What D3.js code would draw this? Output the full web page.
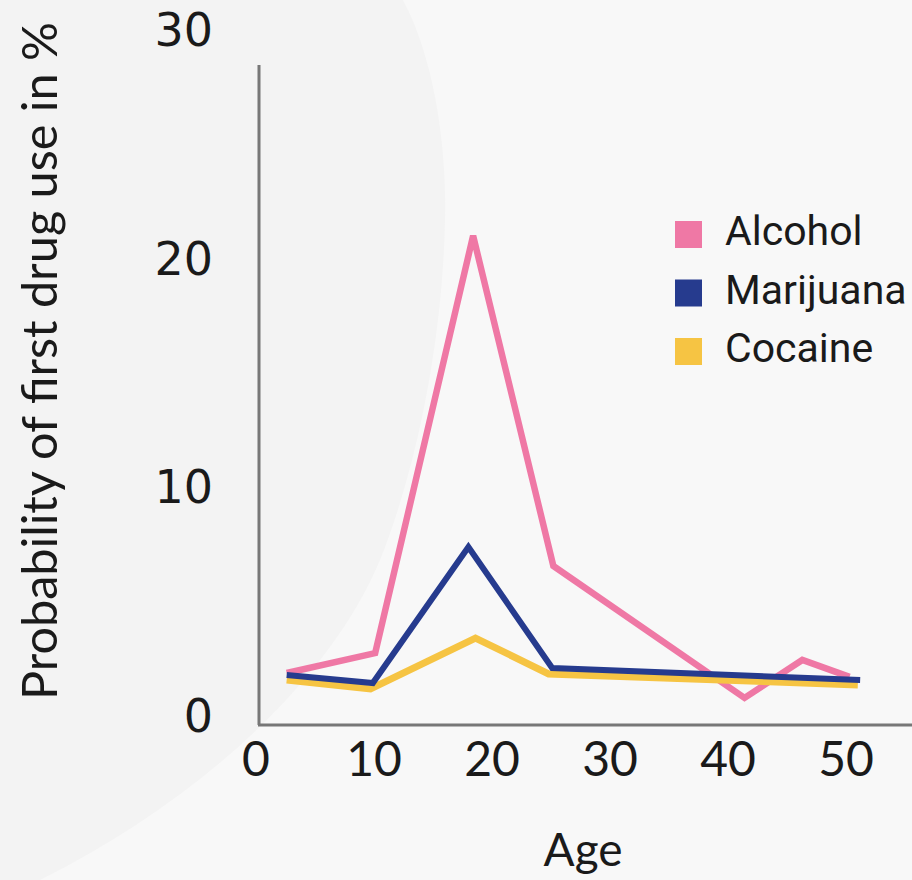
<!DOCTYPE html>
<html><head><meta charset="utf-8">
<script src="https://cdn.jsdelivr.net/npm/d3@7"></script>
<style>html,body{margin:0;padding:0;background:#f8f8f8;}</style>
</head><body>
<svg id="chart" width="912" height="880"></svg>
<script>
const yTicks = [0, 10, 20, 30];
const xTicks = [0, 10, 20, 30, 40, 50];
const seriesNames = ["Alcohol", "Marijuana", "Cocaine"];
const seriesColors = ["#ef78a5", "#263b8e", "#f6c443"];
const alcoholAge = [2.6, 10.1, 18.4, 25.2, 41.4, 46.3, 50.3];
const alcoholVal = [1.88, 2.75, 21.0, 6.56, 0.79, 2.45, 1.71];
const marijuanaAge = [2.6, 9.9, 18.0, 25.1, 51.2];
const marijuanaVal = [1.79, 1.44, 7.39, 2.10, 1.57];
const cocaineAge = [2.6, 9.7, 18.6, 24.8, 51.0];
const cocaineVal = [1.57, 1.18, 3.41, 1.84, 1.36];

const svg = d3.select("#chart");
svg.append("rect").attr("width", 912).attr("height", 880).attr("fill", "#f8f8f8");
svg.append("path")
  .attr("d", "M0,0 L403,0 C435,60 447,150 445,220 C443,330 420,460 380,560 C330,680 200,800 40,880 L0,880 Z")
  .attr("fill", "#f3f3f3");

const x = d3.scaleLinear().domain([0, 50]).range([256, 846]);
const y = d3.scaleLinear().domain([0, 30]).range([716, 30]);

// axes lines
svg.append("line").attr("x1", 259).attr("x2", 259).attr("y1", 65).attr("y2", 725)
  .attr("stroke", "#777").attr("stroke-width", 3);
svg.append("line").attr("x1", 258).attr("x2", 912).attr("y1", 725).attr("y2", 725)
  .attr("stroke", "#777").attr("stroke-width", 3);

// y tick labels
svg.append("g").selectAll("text").data(yTicks).join("text")
  .attr("x", 213).attr("y", d => y(d))
  .attr("text-anchor", "end").attr("dominant-baseline", "central")
  .attr("font-family", "DejaVu Sans").attr("font-size", 46).attr("fill", "#1a1a1a")
  .text(d => d);

// x tick labels
svg.append("g").selectAll("text").data(xTicks).join("text")
  .attr("x", d => x(d)).attr("y", 757)
  .attr("text-anchor", "middle").attr("dominant-baseline", "central")
  .attr("font-family", "Lato").attr("font-size", 48).attr("fill", "#1a1a1a")
  .text(d => d);

// axis titles
svg.append("text").attr("x", 583).attr("y", 866).attr("text-anchor", "middle")
  .attr("font-family", "Lato").attr("font-size", 46).attr("fill", "#1a1a1a").text("Age");
svg.append("text").attr("transform", "translate(57,361) rotate(-90)")
  .attr("text-anchor", "middle")
  .attr("font-family", "Lato").attr("font-size", 48).attr("fill", "#1a1a1a")
  .attr("textLength", 678).attr("lengthAdjust", "spacingAndGlyphs")
  .text("Probability of first drug use in %");

// lines
const line = d3.line().x(d => x(d[0])).y(d => y(d[1]));
const series = [
  { ages: alcoholAge, vals: alcoholVal, color: seriesColors[0], w: 6.5 },
  { ages: cocaineAge, vals: cocaineVal, color: seriesColors[2], w: 7 },
  { ages: marijuanaAge, vals: marijuanaVal, color: seriesColors[1], w: 6 }
];
series.forEach(s => {
  svg.append("path")
    .attr("d", line(s.ages.map((a, i) => [a, s.vals[i]])))
    .attr("fill", "none").attr("stroke", s.color).attr("stroke-width", s.w)
    .attr("stroke-linejoin", "miter");
});

// legend
const lg = svg.append("g").selectAll("g").data(seriesNames).join("g")
  .attr("transform", (d, i) => `translate(675,${221 + i * 58.5})`);
lg.append("rect").attr("width", 27).attr("height", 27).attr("fill", (d, i) => seriesColors[i]);
lg.append("text").attr("x", 50).attr("y", 24)
  .attr("font-family", "Roboto").attr("font-size", 41).attr("fill", "#1a1a1a")
  .text(d => d);
</script>
</body></html>
